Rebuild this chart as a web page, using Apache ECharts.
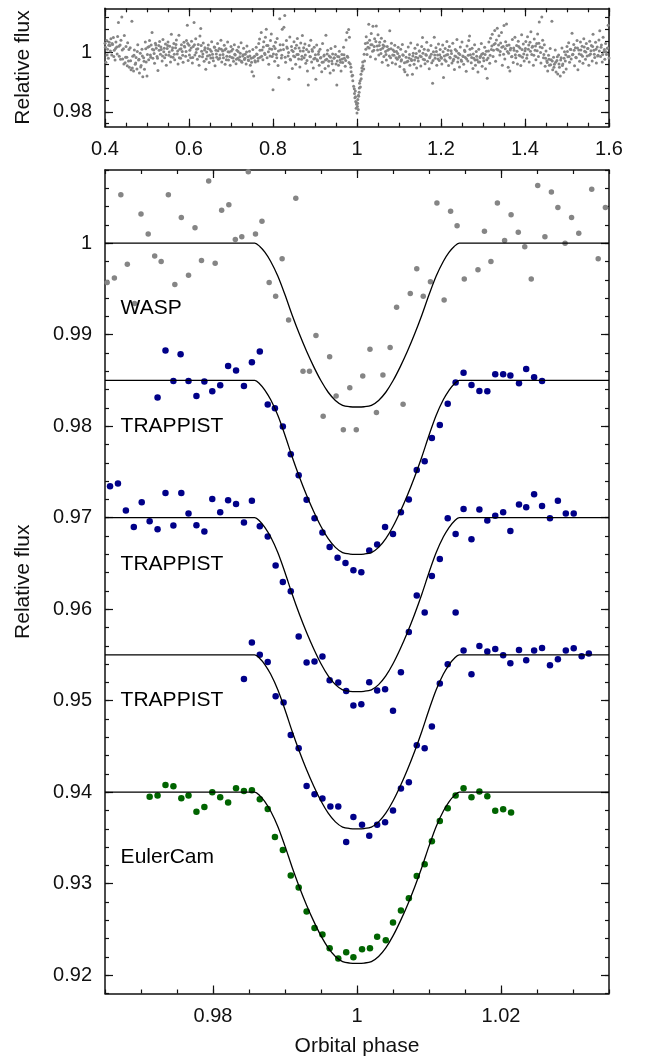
<!DOCTYPE html>
<html>
<head>
<meta charset="utf-8">
<title>Transit light curves</title>
<script src="https://cdn.jsdelivr.net/npm/echarts@6/dist/echarts.min.js"></script>
<style>
  html, body { margin: 0; padding: 0; background: #fff; }
  #chart { width: 649px; height: 1060px; }
</style>
</head>
<body>
<div id="chart"></div>
<script>
// ---- Wide-phase WASP photometry (upper panel): [orbital phase, relative flux]
const waspWide = [
[0.400,1.0032],[0.402,0.9968],[0.404,1.0041],[0.406,1.0012],[0.408,0.9981],[0.410,1.0035],[0.412,1.0024],[0.414,1.0047],[0.416,0.9992],[0.418,1.0028],
[0.420,1.0051],[0.422,1.0008],[0.424,0.9975],[0.426,1.0036],[0.428,1.0019],[0.430,1.0055],[0.432,1.0102],[0.434,0.9988],[0.436,1.0026],[0.438,1.0042],
[0.440,1.0121],[0.442,0.9979],[0.444,1.0013],[0.446,1.0058],[0.448,0.9966],[0.450,1.0021],[0.452,0.9985],[0.454,1.0034],[0.456,0.9972],[0.458,0.9951],
[0.460,1.0017],[0.462,0.9942],[0.464,1.0106],[0.466,0.9988],[0.468,0.9938],[0.470,1.0009],[0.472,0.9961],[0.474,0.9984],[0.476,0.9945],[0.478,1.0027],
[0.480,0.9975],[0.482,0.9931],[0.484,0.9998],[0.486,0.9957],[0.488,1.0012],[0.490,0.9919],[0.492,0.9983],[0.494,0.9944],[0.496,1.0036],[0.498,0.9969],
[0.500,0.9921],[0.502,1.0018],[0.504,0.9976],[0.506,1.0041],[0.508,0.9992],[0.510,1.0026],[0.512,1.0068],[0.514,0.9981],[0.516,1.0009],[0.518,0.9964],
[0.520,1.0032],[0.522,1.0015],[0.524,0.9987],[0.526,0.9940],[0.528,1.0024],[0.530,1.0038],[0.532,0.9995],[0.534,1.0011],[0.536,0.9972],[0.538,1.0045],
[0.540,1.0003],[0.542,0.9983],[0.544,1.0029],[0.546,0.9958],[0.548,1.0014],[0.550,1.0036],[0.552,0.9991],[0.554,1.0022],[0.556,0.9969],[0.558,1.0062],
[0.560,1.0008],[0.562,0.9985],[0.564,1.0031],[0.566,0.9976],[0.568,1.0017],[0.570,1.0043],[0.572,0.9996],[0.574,0.9962],[0.576,1.0059],[0.578,1.0012],
[0.580,0.9981],[0.582,1.0027],[0.584,1.0004],[0.586,0.9968],[0.588,1.0035],[0.590,1.0019],[0.592,0.9988],[0.594,1.0041],[0.596,1.0093],[0.598,0.9974],
[0.600,1.0025],[0.602,1.0008],[0.604,0.9983],[0.606,1.0039],[0.608,0.9965],[0.610,1.0021],[0.612,1.0102],[0.614,0.9992],[0.616,1.0047],[0.618,1.0012],
[0.620,0.9978],[0.622,1.0028],[0.624,0.9958],[0.626,1.0056],[0.628,1.0082],[0.630,1.0005],[0.632,0.9986],[0.634,1.0033],[0.636,0.9971],[0.638,1.0017],
[0.640,0.9944],[0.642,1.0002],[0.644,0.9989],[0.646,1.0026],[0.648,0.9967],[0.650,1.0011],[0.652,0.9982],[0.654,1.0037],[0.656,0.9995],[0.658,0.9973],
[0.660,1.0019],[0.662,0.9956],[0.664,1.0008],[0.666,0.9985],[0.668,1.0031],[0.670,0.9978],[0.672,1.0014],[0.674,0.9992],[0.676,1.0042],[0.678,0.9969],
[0.680,1.0006],[0.682,0.9983],[0.684,1.0025],[0.686,0.9961],[0.688,1.0013],[0.690,0.9988],[0.692,1.0036],[0.694,0.9975],[0.696,1.0002],[0.698,0.9958],
[0.700,1.0021],[0.702,0.9984],[0.704,1.0012],[0.706,0.9971],[0.708,1.0027],[0.710,0.9992],[0.712,0.9963],[0.714,1.0008],[0.716,0.9981],[0.718,1.0019],
[0.720,0.9975],[0.722,0.9998],[0.724,1.0034],[0.726,0.9968],[0.728,0.9989],[0.730,1.0015],[0.732,0.9977],[0.734,0.9995],[0.736,0.9962],[0.738,1.0023],
[0.740,0.9986],[0.742,0.9974],[0.744,1.0005],[0.746,0.9958],[0.748,0.9981],[0.750,0.9936],[0.752,1.0011],[0.754,0.9921],[0.756,0.9988],[0.758,0.9969],
[0.760,1.0018],[0.762,0.9994],[0.764,0.9972],[0.766,1.0031],[0.768,1.0046],[0.770,0.9985],[0.772,1.0068],[0.774,1.0009],[0.776,0.9976],[0.778,1.0037],
[0.780,0.9998],[0.782,1.0052],[0.784,1.0079],[0.786,0.9983],[0.788,1.0024],[0.790,0.9961],[0.792,1.0013],[0.794,1.0041],[0.796,1.0063],[0.798,0.9987],
[0.800,0.9875],[0.802,1.0022],[0.804,0.9971],[0.806,1.0035],[0.808,0.9994],[0.810,1.0048],[0.812,0.9957],[0.814,0.9916],[0.816,1.0115],[0.818,1.0009],
[0.820,0.9982],[0.822,1.0079],[0.824,1.0027],[0.826,1.0086],[0.828,1.0126],[0.830,0.9968],[0.832,1.0041],[0.834,1.0015],[0.836,0.9989],[0.838,0.9910],
[0.840,1.0053],[0.842,0.9975],[0.844,1.0021],[0.846,0.9947],[0.848,1.0004],[0.850,1.0037],[0.852,0.9986],[0.854,0.9961],[0.856,1.0025],[0.858,1.0048],
[0.860,0.9994],[0.862,1.0016],[0.864,0.9952],[0.866,1.0033],[0.868,0.9978],[0.870,1.0058],[0.872,1.0006],[0.874,0.9983],[0.876,1.0029],[0.878,0.9964],
[0.880,1.0011],[0.882,0.9938],[0.884,0.9891],[0.886,1.0024],[0.888,0.9987],[0.890,1.0042],[0.892,0.9969],[0.894,1.0005],[0.896,0.9948],[0.898,1.0018],
[0.900,0.9981],[0.902,0.9910],[0.904,1.0026],[0.906,0.9973],[0.908,0.9995],[0.910,0.9958],[0.912,1.0012],[0.914,0.9984],[0.916,0.9936],[0.918,1.0031],
[0.920,0.9969],[0.922,0.9992],[0.924,0.9947],[0.926,1.0059],[0.928,0.9978],[0.930,1.0008],[0.932,0.9955],[0.934,0.9989],[0.936,0.9931],[0.938,1.0014],
[0.940,0.9972],[0.942,0.9996],[0.944,0.9941],[0.946,0.9983],[0.948,1.0021],[0.950,0.9962],[0.952,0.9891],[0.954,0.9987],[0.956,0.9958],[0.958,1.0005],
[0.960,0.9976],[0.962,0.9938],[0.964,0.9994],[0.966,0.9967],[0.968,1.0018],[0.970,0.9981],[0.972,0.9954],[0.974,1.0043],[0.976,1.0068],[0.978,0.9985],
[0.980,1.0078],[0.982,1.0052],[0.984,0.9962],[0.986,0.9936],[0.988,0.9921],[0.990,0.9905],[0.992,0.9887],[0.994,0.9862],[0.995,0.9848],[0.996,0.9871],
[0.997,0.9835],[0.998,0.9812],[0.999,0.9826],[1.000,0.9796],[1.001,0.9818],[1.002,0.9842],[1.003,0.9808],[1.004,0.9853],[1.005,0.9866],[1.006,0.9897],
[1.008,0.9884],[1.010,0.9912],[1.012,0.9938],[1.014,0.9956],[1.016,0.9945],[1.018,0.9972],[1.020,1.0031],[1.022,1.0054],[1.024,0.9994],[1.026,1.0018],
[1.028,1.0096],[1.030,1.0042],[1.032,0.9986],[1.034,1.0065],[1.036,1.0027],[1.038,1.0089],[1.040,1.0008],[1.042,1.0047],[1.044,0.9979],[1.046,1.0090],
[1.048,1.0023],[1.050,1.0061],[1.052,0.9992],[1.054,1.0035],[1.056,1.0011],[1.058,1.0049],[1.060,0.9968],[1.062,1.0026],[1.064,0.9987],[1.066,1.0039],
[1.068,1.0004],[1.070,0.9975],[1.072,1.0021],[1.074,0.9958],[1.076,1.0012],[1.078,1.0074],[1.080,0.9983],[1.082,1.0032],[1.084,0.9966],[1.086,1.0009],
[1.088,0.9991],[1.090,1.0025],[1.092,0.9962],[1.094,1.0004],[1.096,0.9978],[1.098,1.0018],[1.100,0.9985],[1.102,0.9953],[1.104,1.0012],[1.106,0.9976],
[1.108,1.0028],[1.110,0.9991],[1.112,0.9943],[1.114,0.9936],[1.116,1.0004],[1.118,0.9969],[1.120,0.9925],[1.122,1.0019],[1.124,0.9982],[1.126,0.9958],
[1.128,1.0033],[1.130,0.9974],[1.132,0.9927],[1.134,0.9998],[1.136,0.9961],[1.138,1.0015],[1.140,0.9985],[1.142,0.9948],[1.144,1.0027],[1.146,0.9972],
[1.148,1.0006],[1.150,0.9989],[1.152,0.9955],[1.154,1.0021],[1.156,1.0051],[1.158,0.9978],[1.160,1.0012],[1.162,0.9963],[1.164,0.9994],[1.166,1.0035],
[1.168,0.9971],[1.170,1.0008],[1.172,0.9946],[1.174,0.9987],[1.176,1.0024],[1.178,0.9966],[1.180,0.9897],[1.182,1.0003],[1.184,1.0052],[1.186,0.9981],
[1.188,1.0017],[1.190,0.9958],[1.192,0.9992],[1.194,1.0029],[1.196,0.9974],[1.198,1.0011],[1.200,0.9985],[1.202,0.9962],[1.204,1.0026],[1.206,0.9916],
[1.208,0.9989],[1.210,1.0014],[1.212,0.9971],[1.214,1.0038],[1.216,0.9994],[1.218,0.9957],[1.220,1.0021],[1.222,0.9982],[1.224,1.0007],[1.226,0.9965],
[1.228,1.0032],[1.230,0.9978],[1.232,0.9943],[1.234,1.0011],[1.236,0.9986],[1.238,1.0045],[1.240,0.9969],[1.242,0.9998],[1.244,0.9952],[1.246,1.0019],
[1.248,0.9975],[1.250,1.0036],[1.252,0.9989],[1.254,0.9961],[1.256,1.0008],[1.258,0.9984],[1.260,0.9937],[1.262,1.0023],[1.264,0.9972],[1.266,1.0041],
[1.268,1.0056],[1.270,0.9993],[1.272,0.9966],[1.274,1.0015],[1.276,0.9947],[1.278,0.9981],[1.280,1.0027],[1.282,0.9958],[1.284,1.0004],[1.286,0.9976],
[1.288,0.9935],[1.290,1.0012],[1.292,0.9969],[1.294,0.9988],[1.296,1.0031],[1.298,0.9954],[1.300,0.9997],[1.302,0.9973],[1.304,1.0018],[1.306,0.9946],
[1.308,1.0005],[1.310,0.9914],[1.312,0.9982],[1.314,1.0036],[1.316,0.9964],[1.318,1.0049],[1.320,1.0011],[1.322,1.0062],[1.324,0.9987],[1.326,1.0028],
[1.328,1.0075],[1.330,0.9971],[1.332,1.0043],[1.334,1.0083],[1.336,1.0009],[1.338,1.0057],[1.340,0.9992],[1.342,1.0033],[1.344,1.0068],[1.346,0.9958],
[1.348,1.0021],[1.350,1.0092],[1.352,0.9979],[1.354,1.0037],[1.356,1.0097],[1.358,1.0004],[1.360,0.9951],[1.362,1.0026],[1.364,0.9938],[1.366,1.0015],
[1.368,0.9986],[1.370,1.0045],[1.372,0.9967],[1.374,1.0008],[1.376,1.0052],[1.378,0.9983],[1.380,1.0024],[1.382,0.9962],[1.384,1.0039],[1.386,0.9991],
[1.388,1.0016],[1.390,0.9957],[1.392,1.0061],[1.394,0.9985],[1.396,1.0029],[1.398,0.9972],[1.400,1.0007],[1.402,1.0038],[1.404,0.9981],[1.406,1.0054],
[1.408,1.0012],[1.410,0.9969],[1.412,1.0035],[1.414,1.0071],[1.416,0.9994],[1.418,1.0022],[1.420,0.9958],[1.422,1.0046],[1.424,1.0008],[1.426,0.9976],
[1.428,1.0031],[1.430,1.0063],[1.432,0.9987],[1.434,1.0104],[1.436,1.0019],[1.438,0.9965],[1.440,1.0121],[1.442,1.0042],[1.444,0.9983],[1.446,1.0027],
[1.448,0.9954],[1.450,1.0006],[1.452,0.9972],[1.454,0.9938],[1.456,0.9991],[1.458,0.9958],[1.460,1.0014],[1.462,0.9976],[1.464,1.0106],[1.466,0.9942],
[1.468,0.9985],[1.470,0.9961],[1.472,1.0009],[1.474,0.9935],[1.476,0.9974],[1.478,0.9928],[1.480,0.9992],[1.482,0.9951],[1.484,0.9921],[1.486,0.9983],
[1.488,1.0016],[1.490,0.9962],[1.492,0.9934],[1.494,1.0003],[1.496,0.9972],[1.498,0.9945],[1.500,1.0021],[1.502,0.9986],[1.504,1.0034],[1.506,0.9968],
[1.508,1.0012],[1.510,0.9979],[1.512,1.0066],[1.514,0.9995],[1.516,1.0028],[1.518,0.9956],[1.520,1.0017],[1.522,0.9983],[1.524,1.0041],[1.526,0.9942],
[1.528,1.0009],[1.530,0.9971],[1.532,1.0036],[1.534,0.9993],[1.536,1.0022],[1.538,0.9964],[1.540,1.0047],[1.542,1.0005],[1.544,0.9978],[1.546,1.0031],
[1.548,0.9989],[1.550,1.0014],[1.552,0.9958],[1.554,1.0039],[1.556,0.9996],[1.558,1.0024],[1.560,0.9972],[1.562,1.0062],[1.564,1.0008],[1.566,0.9984],
[1.568,1.0035],[1.570,0.9965],[1.572,1.0019],[1.574,0.9991],[1.576,1.0043],[1.578,1.0074],[1.580,0.9987],[1.582,1.0026],[1.584,0.9969],[1.586,1.0052],
[1.588,1.0004],[1.590,0.9978],[1.592,1.0031],[1.594,0.9994],[1.596,1.0015],[1.598,1.0093],[1.600,0.9982],
// denser core of the out-of-transit band
[0.401,1.0018],[0.405,0.9992],[0.409,1.0025],[0.413,1.0006],[0.417,1.0031],[0.421,0.9987],[0.425,1.0014],[0.429,0.9996],[0.433,1.0022],[0.437,0.9978],
[0.441,1.0009],[0.445,0.9962],[0.449,0.9985],[0.453,0.9956],[0.457,1.0011],[0.461,0.9973],[0.465,0.9948],[0.469,0.9991],[0.473,0.9965],[0.477,1.0004],
[0.481,0.9978],[0.485,0.9952],[0.489,0.9989],[0.493,0.9971],[0.497,1.0013],[0.501,0.9994],[0.505,1.0021],[0.509,0.9985],[0.513,1.0012],[0.517,0.9997],
[0.521,1.0026],[0.525,0.9981],[0.529,1.0008],[0.533,1.0019],[0.537,0.9989],[0.541,1.0015],[0.545,0.9993],[0.549,1.0024],[0.553,1.0002],[0.557,0.9986],
[0.561,1.0017],[0.565,0.9995],[0.569,1.0028],[0.573,1.0006],[0.577,0.9983],[0.581,1.0013],[0.585,0.9991],[0.589,1.0022],[0.593,1.0004],[0.597,1.0031],
[0.601,0.9992],[0.605,1.0016],[0.609,0.9984],[0.613,1.0027],[0.617,1.0001],[0.621,1.0013],[0.625,0.9988],[0.629,1.0024],[0.633,0.9996],[0.637,1.0009],
[0.641,0.9979],[0.645,1.0014],[0.649,0.9991],[0.653,1.0005],[0.657,0.9983],[0.661,1.0018],[0.665,0.9996],[0.669,1.0007],[0.673,0.9981],[0.677,1.0012],
[0.681,0.9994],[0.685,1.0009],[0.689,0.9976],[0.693,1.0003],[0.697,0.9987],[0.701,1.0006],[0.705,0.9982],[0.709,0.9995],[0.713,0.9978],[0.717,1.0004],
[0.721,0.9986],[0.725,0.9971],[0.729,0.9993],[0.733,0.9981],[0.737,1.0002],[0.741,0.9975],[0.745,0.9989],[0.749,0.9968],[0.753,0.9984],[0.757,0.9973],
[0.761,0.9996],[0.765,0.9981],[0.769,1.0008],[0.773,0.9988],[0.777,1.0019],[0.781,0.9994],[0.785,1.0024],[0.789,1.0003],[0.793,0.9989],[0.797,1.0012],
[0.801,0.9996],[0.805,1.0014],[0.809,0.9983],[0.813,1.0006],[0.817,1.0027],[0.821,0.9991],[0.825,1.0011],[0.829,0.9985],[0.833,1.0019],[0.837,1.0001],
[0.841,0.9978],[0.845,1.0008],[0.849,0.9989],[0.853,1.0015],[0.857,0.9994],[0.861,0.9979],[0.865,1.0006],[0.869,0.9988],[0.873,1.0017],[0.877,0.9992],
[0.881,0.9974],[0.885,1.0003],[0.889,0.9986],[0.893,1.0011],[0.897,0.9979],[0.901,0.9993],[0.905,0.9976],[0.909,1.0004],[0.913,0.9982],[0.917,0.9968],
[0.921,0.9989],[0.925,0.9975],[0.929,0.9996],[0.933,0.9971],[0.937,0.9985],[0.941,0.9963],[0.945,0.9981],[0.949,0.9994],[0.953,0.9972],[0.957,0.9986],
[0.961,0.9968],[0.965,0.9979],[0.969,0.9993],[0.973,0.9974],[0.977,0.9988],[0.981,0.9967],[0.9855,0.9951],[0.9895,0.9924],[0.9935,0.9878],[0.9965,0.9851],
[0.9985,0.9832],[1.0015,0.9829],[1.0035,0.9856],[1.0055,0.9881],[1.0075,0.9905],[1.0095,0.9927],[1.0115,0.9948],[1.0135,0.9969],[1.017,0.9995],[1.021,1.0012],
[1.025,1.0034],[1.029,1.0016],[1.033,1.0027],[1.037,1.0005],[1.041,1.0021],[1.045,1.0038],[1.049,1.0009],[1.053,1.0024],[1.057,0.9997],[1.061,1.0015],
[1.065,1.0022],[1.069,0.9994],[1.073,1.0008],[1.077,0.9989],[1.081,1.0013],[1.085,0.9992],[1.089,1.0004],[1.093,0.9983],[1.097,0.9997],[1.101,0.9988],
[1.105,0.9972],[1.109,0.9993],[1.113,0.9966],[1.117,0.9985],[1.121,0.9971],[1.125,0.9994],[1.129,0.9978],[1.133,0.9989],[1.137,0.9975],[1.141,0.9997],
[1.145,0.9982],[1.149,1.0006],[1.153,0.9986],[1.157,0.9998],[1.161,0.9976],[1.165,0.9991],[1.169,1.0009],[1.173,0.9983],[1.177,0.9995],[1.181,0.9974],
[1.185,0.9992],[1.189,1.0004],[1.193,0.9979],[1.197,0.9993],[1.201,0.9981],[1.205,1.0003],[1.209,0.9976],[1.213,0.9992],[1.217,1.0008],[1.221,0.9985],
[1.225,0.9997],[1.229,0.9973],[1.233,0.9989],[1.237,1.0006],[1.241,0.9982],[1.245,0.9994],[1.249,0.9971],[1.253,0.9987],[1.257,1.0004],[1.261,0.9979],
[1.265,0.9991],[1.269,1.0012],[1.273,0.9984],[1.277,0.9996],[1.281,0.9975],[1.285,0.9988],[1.289,0.9969],[1.293,0.9984],[1.297,0.9995],[1.301,0.9982],
[1.305,0.9994],[1.309,0.9976],[1.313,1.0006],[1.317,0.9991],[1.321,1.0023],[1.325,1.0008],[1.329,1.0031],[1.333,1.0012],[1.337,1.0026],[1.341,1.0004],
[1.345,1.0018],[1.349,0.9995],[1.353,1.0013],[1.357,1.0024],[1.361,0.9998],[1.365,1.0009],[1.369,0.9987],[1.373,1.0016],[1.377,0.9993],[1.381,1.0005],
[1.385,1.0021],[1.389,0.9989],[1.393,1.0011],[1.397,0.9996],[1.401,1.0014],[1.405,0.9992],[1.409,1.0026],[1.413,1.0005],[1.417,1.0018],[1.421,0.9991],
[1.425,1.0023],[1.429,1.0007],[1.433,1.0032],[1.437,1.0001],[1.441,1.0017],[1.445,0.9994],[1.449,0.9981],[1.453,0.9967],[1.457,0.9978],[1.461,0.9959],
[1.465,0.9972],[1.469,0.9951],[1.473,0.9968],[1.477,0.9986],[1.481,0.9962],[1.485,0.9975],[1.489,0.9957],[1.493,0.9981],[1.497,0.9993],[1.501,1.0004],
[1.505,0.9987],[1.509,1.0011],[1.513,0.9993],[1.517,1.0008],[1.521,0.9985],[1.525,1.0016],[1.529,0.9996],[1.533,1.0009],[1.537,0.9988],[1.541,1.0019],
[1.545,1.0002],[1.549,1.0014],[1.553,0.9991],[1.557,1.0007],[1.561,1.0021],[1.565,0.9995],[1.569,1.0012],[1.573,0.9989],[1.577,1.0006],[1.581,1.0018],
[1.585,0.9994],[1.589,1.0011],[1.593,1.0003],[1.597,1.0016]
];

// ---- Transit-window photometry (lower panel), each set already offset in flux
const waspTransit = [
[0.9653,0.9957],[0.9663,0.9962],[0.9672,1.0053],[0.9681,0.9977],[0.9691,0.9934],[0.9700,1.0032],[0.9710,1.0010],[0.9719,0.9986],
[0.9728,0.9980],[0.9738,1.0053],[0.9747,0.9955],[0.9756,1.0028],[0.9766,0.9965],[0.9775,1.0017],[0.9784,0.9981],[0.9794,1.0068],
[0.9803,0.9978],[0.9812,1.0036],[0.9822,1.0042],[0.9831,1.0004],[0.9840,1.0007],[0.9849,1.0078],[0.9859,1.0010],[0.9868,1.0024],
[0.9878,0.9957],[0.9887,0.9942],[0.9896,0.9983],[0.9905,0.9916],[0.9915,1.0049],[0.9925,0.9860],[0.9934,0.9860],[0.9943,0.9899],
[0.9953,0.9811],[0.9962,0.9876],[0.9971,0.9833],[0.9981,0.9796],[0.9990,0.9842],[0.9999,0.9796],[1.0008,0.9855],[1.0018,0.9884],
[1.0027,0.9815],[1.0036,0.9856],[1.0046,0.9886],[1.0055,0.9930],[1.0064,0.9824],[1.0074,0.9945],[1.0083,0.9972],[1.0092,0.9942],
[1.0102,0.9958],[1.0111,1.0044],[1.0121,0.9938],[1.0130,1.0035],[1.0139,1.0019],[1.0149,0.9961],[1.0168,0.9971],[1.0177,1.0013],
[1.0186,0.9980],[1.0195,1.0044],[1.0205,1.0003],[1.0214,1.0031],[1.0224,1.0012],[1.0233,0.9996],[1.0242,0.9961],[1.0251,1.0063],
[1.0261,1.0007],[1.0270,1.0056],[1.0279,1.0039],[1.0289,1.0000],[1.0298,1.0028],[1.0308,1.0011],[1.0326,1.0059],[1.0335,0.9983],
[1.0345,1.0039]
];
const trappistA = [
[0.9723,0.98314],[0.9734,0.98827],[0.9745,0.98495],[0.9755,0.98787],[0.9766,0.98495],[0.9777,0.98331],[0.9788,0.98489],[0.9799,0.98383],
[0.9810,0.98448],[0.9821,0.98659],[0.9832,0.98609],[0.9843,0.98440],[0.9854,0.98699],[0.9865,0.98816],[0.9876,0.98237],[0.9886,0.98197],
[0.9897,0.97997],[0.9908,0.97694],[0.9919,0.97464],[0.9930,0.97195],[0.9941,0.96995],[0.9952,0.96838],[0.9962,0.96681],[0.9973,0.96561],
[0.9984,0.96506],[0.9995,0.96426],[1.0006,0.96404],[1.0017,0.96642],[1.0028,0.96707],[1.0039,0.96899],[1.0050,0.96823],[1.0061,0.97060],
[1.0072,0.97199],[1.0083,0.97522],[1.0094,0.97617],[1.0104,0.97872],[1.0115,0.98014],[1.0126,0.98244],[1.0137,0.98478],[1.0148,0.98583],
[1.0159,0.98451],[1.0170,0.98386],[1.0181,0.98383],[1.0192,0.98568],[1.0203,0.98568],[1.0213,0.98554],[1.0225,0.98470],[1.0235,0.98626],
[1.0246,0.98536],[1.0257,0.98495]
];
const trappistB = [
[0.9657,0.97344],[0.9668,0.97374],[0.9679,0.97079],[0.9690,0.96899],[0.9701,0.97169],[0.9712,0.96962],[0.9723,0.96874],[0.9734,0.97271],
[0.9745,0.96915],[0.9756,0.97271],[0.9766,0.97046],[0.9777,0.96918],[0.9788,0.96849],[0.9799,0.97205],[0.9810,0.97060],[0.9821,0.97191],
[0.9832,0.97151],[0.9843,0.96948],[0.9854,0.97184],[0.9865,0.96907],[0.9876,0.96795],[0.9887,0.96478],[0.9897,0.96298],[0.9908,0.96197],
[0.9919,0.95702],[0.9930,0.95417],[0.9941,0.95428],[0.9952,0.95483],[0.9962,0.95224],[0.9974,0.95199],[0.9985,0.95107],[0.9995,0.94948],
[1.0006,0.94962],[1.0017,0.95202],[1.0028,0.95111],[1.0039,0.95126],[1.0050,0.94889],[1.0061,0.95311],[1.0072,0.95752],[1.0083,0.96150],
[1.0094,0.95964],[1.0104,0.96364],[1.0115,0.96550],[1.0126,0.96995],[1.0137,0.96823],[1.0137,0.95964],[1.0148,0.97096],[1.0159,0.96765],
[1.0170,0.97090],[1.0181,0.96969],[1.0192,0.97020],[1.0203,0.97060],[1.0213,0.96856],[1.0225,0.97144],[1.0235,0.97115],[1.0246,0.97257],
[1.0257,0.97129],[1.0268,0.96995],[1.0279,0.97184],[1.0290,0.97046],[1.0301,0.97046]
];
const trappistC = [
[0.9843,0.95238],[0.9854,0.95636],[0.9865,0.95501],[0.9876,0.95424],[0.9887,0.95049],[0.9898,0.94980],[0.9908,0.94626],[0.9919,0.94481],
[0.9930,0.94069],[0.9941,0.93978],[0.9952,0.93931],[0.9963,0.93844],[0.9974,0.93844],[0.9985,0.93457],[0.9995,0.93730],[1.0007,0.93643],
[1.0017,0.93523],[1.0028,0.93643],[1.0039,0.93672],[1.0050,0.93800],[1.0061,0.94040],[1.0072,0.94109],[1.0083,0.94514],[1.0094,0.94481],
[1.0104,0.94718],[1.0115,0.95188],[1.0126,0.95399],[1.0148,0.95549],[1.0159,0.95290],[1.0170,0.95599],[1.0181,0.95538],[1.0192,0.95566],
[1.0203,0.95497],[1.0213,0.95410],[1.0225,0.95555],[1.0235,0.95443],[1.0246,0.95549],[1.0257,0.95577],[1.0268,0.95388],[1.0279,0.95454],
[1.0290,0.95549],[1.0301,0.95574],[1.0312,0.95486],[1.0322,0.95516]
];
const eulerCam = [
[0.9712,0.93949],[0.9723,0.93964],[0.9734,0.94080],[0.9745,0.94066],[0.9756,0.93934],[0.9766,0.93964],[0.9777,0.93785],[0.9788,0.93839],
[0.9799,0.94000],[0.9810,0.93945],[0.9821,0.93887],[0.9832,0.94044],[0.9843,0.94014],[0.9854,0.94022],[0.9865,0.93923],[0.9876,0.93817],
[0.9886,0.93511],[0.9897,0.93369],[0.9908,0.93090],[0.9919,0.92958],[0.9930,0.92696],[0.9941,0.92517],[0.9952,0.92445],[0.9962,0.92295],
[0.9974,0.92183],[0.9985,0.92251],[0.9995,0.92197],[1.0007,0.92284],[1.0018,0.92295],[1.0028,0.92419],[1.0040,0.92383],[1.0050,0.92576],
[1.0061,0.92707],[1.0072,0.92842],[1.0083,0.93085],[1.0094,0.93213],[1.0104,0.93464],[1.0115,0.93686],[1.0126,0.93825],[1.0137,0.93964],
[1.0148,0.94044],[1.0159,0.93945],[1.0170,0.94007],[1.0181,0.93956],[1.0192,0.93796],[1.0203,0.93814],[1.0214,0.93778]
];

// ---- Transit model: normalised profile (0 = out of transit, 1 = mid-transit)
const modelPhase = [0.965,0.9858,0.9865,0.9872,0.9880,0.9890,0.9900,0.9910,0.9920,0.9930,0.9940,0.9950,0.9960,0.9970,0.9980,0.9990,
                    1.0000,1.0010,1.0020,1.0030,1.0040,1.0050,1.0060,1.0070,1.0080,1.0090,1.0100,1.0110,1.0120,1.0128,1.0135,1.0142,1.035];
const modelFrac  = [0,0,0.02,0.055,0.11,0.20,0.315,0.44,0.555,0.66,0.755,0.84,0.91,0.96,0.99,0.9985,
                    1,0.9985,0.99,0.96,0.91,0.84,0.755,0.66,0.555,0.44,0.315,0.20,0.11,0.055,0.02,0,0];
// out-of-transit level and depth of each fitted curve (WASP, TRAPPIST x3, EulerCam)
const modelBase  = [1.000, 0.985, 0.970, 0.955, 0.940];
const modelDepth = [0.0179, 0.0190, 0.0190, 0.0190, 0.0187];

// ---- Instrument names and where their captions sit
const setNames   = ['WASP', 'TRAPPIST', 'TRAPPIST', 'TRAPPIST', 'EulerCam'];
const nameAnchor = [[0.9671, 0.99295], [0.9671, 0.98], [0.9671, 0.96495], [0.9671, 0.95], [0.9671, 0.9329]];

// ---- Axis ticks
const wideXMajor = [0.4, 0.6, 0.8, 1.0, 1.2, 1.4, 1.6];
const wideXMinor = [0.4,0.45,0.5,0.55,0.6,0.65,0.7,0.75,0.8,0.85,0.9,0.95,1.0,1.05,1.1,1.15,1.2,1.25,1.3,1.35,1.4,1.45,1.5,1.55,1.6];
const wideYMajor = [0.98, 1.0];
const wideYMinor = [0.976,0.98,0.984,0.988,0.992,0.996,1.0,1.004,1.008,1.012];
const zoomXMajor = [0.98, 1.0, 1.02];
const zoomXMinor = [0.965,0.97,0.975,0.98,0.985,0.99,0.995,1.0,1.005,1.01,1.015,1.02,1.025,1.03,1.035];
const zoomYMajor = [0.92,0.93,0.94,0.95,0.96,0.97,0.98,0.99,1.0];
const zoomYMinor = [0.918,0.92,0.922,0.924,0.926,0.928,0.93,0.932,0.934,0.936,0.938,0.94,0.942,0.944,0.946,0.948,0.95,0.952,0.954,
                    0.956,0.958,0.96,0.962,0.964,0.966,0.968,0.97,0.972,0.974,0.976,0.978,0.98,0.982,0.984,0.986,0.988,0.99,
                    0.992,0.994,0.996,0.998,1.0,1.002,1.004,1.006,1.008];

const FONT = '"Liberation Sans", Arial, Helvetica, sans-serif';
const INK = '#111';
const GREY = '#858585';
const BLUE = '#000088';
const GREEN = '#006400';

const fmt = v => String(+(+v).toFixed(4));

// one side of a frame: a major-tick axis (with labels) and a minor-tick axis
function sideAxes(gridIndex, position, min, max, major, minor, labelled, extra) {
  const majorAxis = Object.assign({
    type: 'value', gridIndex, position, min, max, scale: true,
    axisLine: { show: true, onZero: false, lineStyle: { color: INK, width: 1.5 } },
    axisTick: { show: true, inside: true, length: 8, customValues: major, lineStyle: { color: INK, width: 1.2 } },
    axisLabel: { show: labelled, customValues: major, formatter: fmt, margin: 13,
                 fontFamily: FONT, fontSize: 20, color: INK },
    splitLine: { show: false }
  }, extra || {});
  const minorAxis = {
    type: 'value', gridIndex, position, min, max, scale: true,
    axisLine: { show: false, onZero: false },
    axisTick: { show: true, inside: true, length: 4, customValues: minor, lineStyle: { color: INK, width: 1.2 } },
    axisLabel: { show: false },
    splitLine: { show: false }
  };
  return [majorAxis, minorAxis];
}

const nameStyle = { fontFamily: FONT, fontSize: 21, color: INK };

const xAxes = [].concat(
  sideAxes(0, 'bottom', 0.4, 1.6, wideXMajor, wideXMinor, true),
  sideAxes(0, 'top', 0.4, 1.6, wideXMajor, wideXMinor, false),
  sideAxes(1, 'bottom', 0.965, 1.035, zoomXMajor, zoomXMinor, true,
           { name: 'Orbital phase', nameLocation: 'middle', nameGap: 42, nameTextStyle: nameStyle }),
  sideAxes(1, 'top', 0.965, 1.035, zoomXMajor, zoomXMinor, false)
);
const yAxes = [].concat(
  sideAxes(0, 'left', 0.975, 1.015, wideYMajor, wideYMinor, true,
           { name: 'Relative flux', nameLocation: 'middle', nameGap: 71, nameTextStyle: nameStyle }),
  sideAxes(0, 'right', 0.975, 1.015, wideYMajor, wideYMinor, false),
  sideAxes(1, 'left', 0.918, 1.008, zoomYMajor, zoomYMinor, true,
           { name: 'Relative flux', nameLocation: 'middle', nameGap: 71, nameTextStyle: nameStyle }),
  sideAxes(1, 'right', 0.918, 1.008, zoomYMajor, zoomYMinor, false)
);

const dots = (name, data, color, size) => ({
  name, type: 'scatter', xAxisIndex: 4, yAxisIndex: 4, data,
  symbol: 'circle', symbolSize: size, itemStyle: { color, opacity: 1 }, z: 2
});

const modelSeries = modelBase.map((base, k) => ({
  name: 'model ' + setNames[k], type: 'line', xAxisIndex: 4, yAxisIndex: 4,
  data: modelPhase.map((p, i) => [p, base - modelDepth[k] * modelFrac[i]]),
  showSymbol: false, symbol: 'none', smooth: 0.3,
  lineStyle: { color: '#000', width: 1.3 }, z: 3
}));

const option = {
  animation: false,
  backgroundColor: '#fff',
  grid: [
    { left: 105, top: 8.3, width: 504, height: 118.4, containLabel: false, outerBoundsMode: 'none' },
    { left: 105, top: 170, width: 504, height: 823.5, containLabel: false, outerBoundsMode: 'none' }
  ],
  xAxis: xAxes,
  yAxis: yAxes,
  series: [
    { name: 'WASP (full orbit)', type: 'scatter', xAxisIndex: 0, yAxisIndex: 0, data: waspWide,
      symbol: 'circle', symbolSize: 3, itemStyle: { color: GREY, opacity: 1 } },
    dots('WASP', waspTransit, GREY, 5.5),
    dots('TRAPPIST A', trappistA, BLUE, 6.5),
    dots('TRAPPIST B', trappistB, BLUE, 6.5),
    dots('TRAPPIST C', trappistC, BLUE, 6.5),
    dots('EulerCam', eulerCam, GREEN, 6.5),
    ...modelSeries,
    { name: 'captions', type: 'scatter', xAxisIndex: 4, yAxisIndex: 4,
      data: nameAnchor.map((a, i) => ({ value: a, name: setNames[i] })),
      symbolSize: 1, itemStyle: { color: 'rgba(0,0,0,0)', opacity: 1 }, silent: true, z: 4,
      label: { show: true, position: 'right', distance: 0, formatter: '{b}', opacity: 1,
               fontFamily: FONT, fontSize: 21, color: '#000', align: 'left', verticalAlign: 'middle' } }
  ]
};

const chart = echarts.init(document.getElementById('chart'), null, { renderer: 'canvas' });
chart.setOption(option);
</script>
</body>
</html>
